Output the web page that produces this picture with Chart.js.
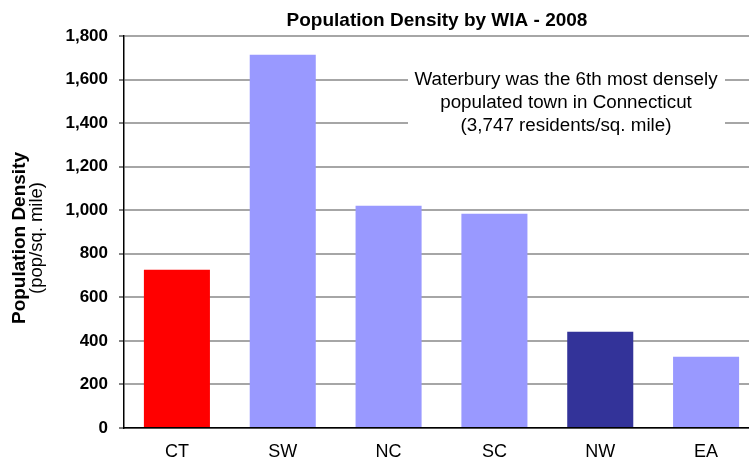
<!DOCTYPE html>
<html>
<head>
<meta charset="utf-8">
<script src="https://cdn.jsdelivr.net/npm/chart.js@4.4.0/dist/chart.umd.min.js"></script>
<style>
  html, body { margin: 0; padding: 0; background: #fff; overflow: hidden; }
  #wrap { width: 762px; height: 459px; }
</style>
</head>
<body>
<div id="wrap"><canvas id="chart" width="762" height="459"></canvas></div>
<script>
// data
const regions = ['CT', 'SW', 'NC', 'SC', 'NW', 'EA'];
const density = [727, 1714, 1021, 984, 442, 327];
const barColors = ['#FF0000', '#9999FF', '#9999FF', '#9999FF', '#333399', '#9999FF'];

const chartTitle = 'Population Density by WIA - 2008';
const yTitle = 'Population Density';
const yUnits = '(pop/sq. mile)';
const noteLines = [
  'Waterbury was the 6th most densely',
  'populated town in Connecticut',
  '(3,747 residents/sq. mile)'
];

const FONT = '"Liberation Sans", Arial, Helvetica, sans-serif';

// title, rotated y title and the text box, drawn by hand
const extraText = {
  id: 'extraText',
  afterDraw(chart) {
    const ctx = chart.ctx;
    ctx.save();
    ctx.fillStyle = '#000';
    ctx.textAlign = 'center';
    ctx.textBaseline = 'middle';

    ctx.font = 'bold 19px ' + FONT;
    ctx.fillText(chartTitle, 437, 21);

    ctx.save();
    ctx.translate(20, 238);
    ctx.rotate(-Math.PI / 2);
    ctx.font = 'bold 19px ' + FONT;
    ctx.fillText(yTitle, 0, 0);
    ctx.font = '18.5px ' + FONT;
    ctx.fillText(yUnits, 0, 17);
    ctx.restore();

    // white box behind the note, hides the grid lines
    ctx.fillStyle = '#fff';
    ctx.fillRect(408, 66, 317, 72);
    ctx.fillStyle = '#000';
    ctx.font = '18.8px ' + FONT;
    noteLines.forEach((line, i) => {
      ctx.fillText(line, 566, 80 + i * 23);
    });
    ctx.restore();
  }
};

new Chart(document.getElementById('chart').getContext('2d'), {
  type: 'bar',
  data: {
    labels: regions,
    datasets: [{
      data: density,
      backgroundColor: barColors,
      borderWidth: 0,
      barPercentage: 0.624,
      categoryPercentage: 1
    }]
  },
  options: {
    responsive: false,
    animation: false,
    layout: { padding: { top: 36, right: 3, left: 0, bottom: 0 } },
    plugins: {
      legend: { display: false },
      tooltip: { enabled: false }
    },
    scales: {
      x: {
        afterFit(scale) { scale.height = 31; },
        grid: { display: false, drawTicks: false },
        border: { color: '#000', width: 1.5 },
        ticks: {
          color: '#000',
          padding: 13,
          font: { family: FONT, size: 18 }
        }
      },
      y: {
        min: 0,
        max: 1800,
        afterFit(scale) { scale.width = 124; },
        border: { color: '#000', width: 1.5 },
        grid: {
          color: '#a6a6a6',
          lineWidth: 2,
          tickColor: '#000',
          tickWidth: 1,
          tickLength: 5
        },
        ticks: {
          stepSize: 200,
          color: '#000',
          padding: 11,
          font: { family: FONT, size: 17, weight: 'bold' },
          callback: v => v.toLocaleString('en-US')
        }
      }
    }
  },
  plugins: [extraText]
});
</script>
</body>
</html>
